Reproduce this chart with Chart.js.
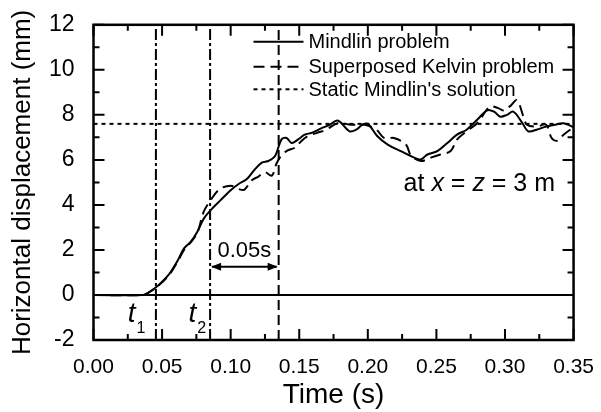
<!DOCTYPE html>
<html>
<head>
<meta charset="utf-8">
<script src="https://cdn.jsdelivr.net/npm/chart.js@4.4.1/dist/chart.umd.min.js"></script>
<style>
  html, body { margin: 0; padding: 0; background: #fff; }
  #wrap { width: 601px; height: 412px; }
</style>
</head>
<body>
<div id="wrap"><canvas id="dispChart" width="601" height="412"></canvas></div>
<script>
// values: time (s) and horizontal displacement (mm)
const mindlinTime = [0, 0.036, 0.040, 0.048, 0.055, 0.061, 0.066, 0.071, 0.0756, 0.0804, 0.0853, 0.0925,
  0.0998, 0.1058, 0.1118, 0.1167, 0.1227, 0.1275, 0.1324, 0.137, 0.1408, 0.1444, 0.149, 0.154, 0.159,
  0.166, 0.172, 0.178, 0.1867, 0.1915, 0.196, 0.200, 0.207, 0.2145, 0.224, 0.2338, 0.2386, 0.2435,
  0.2507, 0.258, 0.265, 0.272, 0.2797, 0.287, 0.292, 0.2966, 0.3014, 0.306, 0.312, 0.317, 0.323,
  0.330, 0.3365, 0.3427, 0.350];
const mindlinDisp = [0, 0, 0.1, 0.47, 0.91, 1.49, 2.07, 2.37, 2.8, 3.39, 3.76, 4.2,
  4.64, 4.93, 5.15, 5.51, 5.88, 5.95, 6.17, 6.9, 6.97, 6.75, 6.9, 7.12, 7.2,
  7.4, 7.55, 7.75, 7.27, 7.34, 7.56, 7.6, 7.05, 6.68, 6.39, 6.1, 6.02, 6.24,
  6.39, 6.75, 7.12, 7.34, 7.78, 8.2, 8.14, 7.92, 8.0, 8.14, 7.7, 7.27, 7.34,
  7.48, 7.56, 7.63, 7.45];

const kelvinTime = [0, 0.036, 0.040, 0.048, 0.055, 0.061, 0.066, 0.071, 0.0756, 0.0804, 0.0853, 0.092,
  0.100, 0.106, 0.110, 0.1155, 0.120, 0.125, 0.130, 0.1335, 0.137, 0.141, 0.147, 0.151, 0.156,
  0.163, 0.170, 0.178, 0.188, 0.1976, 0.203, 0.207, 0.212, 0.219, 0.2278, 0.2314, 0.2386, 0.246,
  0.253, 0.2604, 0.265, 0.272, 0.2797, 0.289, 0.295, 0.299, 0.304, 0.3087, 0.3135, 0.316, 0.323,
  0.330, 0.334, 0.338, 0.3427, 0.350];
const kelvinDisp = [0, 0, 0.1, 0.45, 0.88, 1.45, 2.0, 2.35, 2.75, 3.7, 4.2, 4.7,
  4.85, 4.7, 4.68, 5.1, 5.25, 5.45, 5.3, 5.85, 6.2, 6.4, 6.55, 6.8, 7.05,
  7.2, 7.35, 7.63, 7.56, 7.56, 7.45, 7.3, 6.97, 6.97, 6.68, 6.2, 5.95, 6.1,
  6.24, 6.39, 6.9, 7.27, 7.63, 8.36, 8.3, 8.2, 8.4, 8.65, 7.92, 7.56, 7.48,
  7.56, 6.97, 6.85, 7.12, 7.45];

const staticDisp = 7.6;                    // static Mindlin's solution
const markerTimes = [0.0455, 0.085, 0.135]; // t1, t2, t2 + 0.05 s
const seriesLabels = ['Mindlin problem', 'Superposed Kelvin problem', "Static Mindlin's solution"];

const xTickValues = [0, 0.05, 0.10, 0.15, 0.20, 0.25, 0.30, 0.35];
const xTickLabels = ['0.00', '0.05', '0.10', '0.15', '0.20', '0.25', '0.30', '0.35'];
const yTickValues = [-2, 0, 2, 4, 6, 8, 10, 12];
const yTickLabels = ['-2', '0', '2', '4', '6', '8', '10', '12'];

const FONT = "'Liberation Sans', Arial, sans-serif";

function toPoints(xs, ys) {
    return xs.map((t, i) => ({ x: t, y: ys[i] }));
}

const xMin = xTickValues[0], xMax = xTickValues[xTickValues.length - 1];
const yMin = yTickValues[0], yMax = yTickValues[yTickValues.length - 1];

function vline(t, dash) {
    return {
        data: [{ x: t, y: yMin }, { x: t, y: yMax }],
        borderColor: '#000', borderWidth: 2, borderDash: dash,
        pointRadius: 0, tension: 0
    };
}

// frame with inward major/minor ticks on all four sides
const axisBox = {
    id: 'axisBox',
    afterDatasetsDraw(chart) {
        const { ctx, chartArea: a, scales: { x, y } } = chart;
        ctx.save();
        ctx.strokeStyle = '#000';
        ctx.lineWidth = 2;
        ctx.beginPath();
        const tick = (px, horizontalAxis, len) => {
            if (horizontalAxis) {
                ctx.moveTo(px, a.bottom); ctx.lineTo(px, a.bottom - len);
                ctx.moveTo(px, a.top); ctx.lineTo(px, a.top + len);
            } else {
                ctx.moveTo(a.left, px); ctx.lineTo(a.left + len, px);
                ctx.moveTo(a.right, px); ctx.lineTo(a.right - len, px);
            }
        };
        xTickValues.forEach((v, i) => {
            tick(x.getPixelForValue(v), true, 11);
            if (i < xTickValues.length - 1) tick(x.getPixelForValue((v + xTickValues[i + 1]) / 2), true, 6);
        });
        yTickValues.forEach((v, i) => {
            tick(y.getPixelForValue(v), false, 11);
            if (i < yTickValues.length - 1) tick(y.getPixelForValue((v + yTickValues[i + 1]) / 2), false, 6);
        });
        ctx.stroke();
        ctx.lineWidth = 2.5;
        ctx.strokeRect(a.left, a.top, a.right - a.left, a.bottom - a.top);
        ctx.restore();
    },
    afterDraw(chart) {
        const { ctx, chartArea: a, scales: { x, y } } = chart;
        ctx.save();
        ctx.fillStyle = '#000';
        ctx.strokeStyle = '#000';

        // legend inside the plot
        const rows = [41.7, 66.7, 89.3];
        const sx0 = a.left + 160, sx1 = a.left + 210;
        ctx.font = '20px ' + FONT;
        ctx.textAlign = 'left';
        ctx.textBaseline = 'middle';
        rows.forEach((ry, i) => {
            const ds = chart.data.datasets[i];
            ctx.lineWidth = 2;
            ctx.setLineDash(ds.borderDash || []);
            ctx.beginPath();
            ctx.moveTo(sx0, ry); ctx.lineTo(sx1, ry);
            ctx.stroke();
            ctx.setLineDash([]);
            ctx.fillText(ds.label, sx1 + 5, ry + 1);
        });

        // 0.05 s interval arrow
        const xa = x.getPixelForValue(markerTimes[1]), xb = x.getPixelForValue(markerTimes[2]);
        const ya = y.getPixelForValue(1.25);
        ctx.lineWidth = 2;
        ctx.beginPath();
        ctx.moveTo(xa + 2, ya); ctx.lineTo(xb - 2, ya);
        ctx.stroke();
        ctx.beginPath();
        ctx.moveTo(xa + 1, ya); ctx.lineTo(xa + 11, ya - 4); ctx.lineTo(xa + 11, ya + 4); ctx.closePath();
        ctx.moveTo(xb - 1, ya); ctx.lineTo(xb - 11, ya - 4); ctx.lineTo(xb - 11, ya + 4); ctx.closePath();
        ctx.fill();
        ctx.font = '22px ' + FONT;
        ctx.textAlign = 'center';
        ctx.textBaseline = 'alphabetic';
        ctx.fillText('0.05s', (xa + xb) / 2, y.getPixelForValue(1.7));

        // t1, t2 labels
        const subLabel = (t, sub) => {
            const px = x.getPixelForValue(t), py = y.getPixelForValue(-1.2);
            ctx.textAlign = 'left';
            ctx.font = 'italic 28px ' + FONT;
            ctx.fillText('t', px, py);
            const w = ctx.measureText('t').width;
            ctx.font = '16px ' + FONT;
            ctx.fillText(sub, px + w + 1, py + 11);
        };
        subLabel(0.025, '1');
        subLabel(0.0693, '2');

        // location note, right aligned
        const parts = [['at ', ''], ['x', 'italic '], [' = ', ''], ['z', 'italic '], [' = 3 m', '']];
        let total = 0;
        parts.forEach(p => { ctx.font = p[1] + '25px ' + FONT; total += ctx.measureText(p[0]).width; });
        let cx = x.getPixelForValue(0.3365) - total;
        const by = y.getPixelForValue(4.6);
        ctx.textAlign = 'left';
        parts.forEach(p => {
            ctx.font = p[1] + '25px ' + FONT;
            ctx.fillText(p[0], cx, by);
            cx += ctx.measureText(p[0]).width;
        });
        ctx.restore();
    }
};

const ctx = document.getElementById('dispChart').getContext('2d');
const dispChart = new Chart(ctx, {
    type: 'line',
    data: {
        datasets: [
            {
                label: seriesLabels[0],
                data: toPoints(mindlinTime, mindlinDisp),
                borderColor: '#000', borderWidth: 2, pointRadius: 0, tension: 0.35
            },
            {
                label: seriesLabels[1],
                data: toPoints(kelvinTime, kelvinDisp),
                borderColor: '#000', borderWidth: 2, borderDash: [11, 6], pointRadius: 0, tension: 0.35
            },
            {
                label: seriesLabels[2],
                data: [{ x: xMin, y: staticDisp }, { x: xMax, y: staticDisp }],
                borderColor: '#000', borderWidth: 2, borderDash: [4, 4], pointRadius: 0, tension: 0
            },
            {
                data: [{ x: xMin, y: 0 }, { x: xMax, y: 0 }],
                borderColor: '#000', borderWidth: 2, pointRadius: 0, tension: 0
            },
            vline(markerTimes[0], [11, 3, 3, 3]),
            vline(markerTimes[1], [11, 3, 3, 3]),
            vline(markerTimes[2], [10, 5])
        ]
    },
    options: {
        responsive: false,
        animation: false,
        devicePixelRatio: 1,
        layout: { padding: { top: 21, right: 23, left: 0, bottom: 0 } },
        plugins: {
            legend: { display: false },
            tooltip: { enabled: false }
        },
        scales: {
            x: {
                type: 'linear',
                min: xMin,
                max: xMax,
                grid: { display: false },
                border: { display: false },
                afterBuildTicks: scale => { scale.ticks = xTickValues.map(v => ({ value: v })); },
                afterFit: scale => { scale.height = 72; },
                ticks: {
                    color: '#000',
                    font: { family: FONT, size: 21 },
                    padding: 7,
                    maxRotation: 0,
                    callback: (v, i) => xTickLabels[i]
                },
                title: {
                    display: true,
                    text: 'Time (s)',
                    color: '#000',
                    font: { family: FONT, size: 28 },
                    padding: { top: 0, bottom: 0 }
                }
            },
            y: {
                min: yMin,
                max: yMax,
                grid: { display: false },
                border: { display: false },
                afterBuildTicks: scale => { scale.ticks = yTickValues.map(v => ({ value: v })); },
                afterFit: scale => { scale.width = 93.5; },
                ticks: {
                    color: '#000',
                    font: { family: FONT, size: 23 },
                    padding: 11,
                    callback: (v, i) => yTickLabels[i]
                },
                title: {
                    display: true,
                    text: 'Horizontal displacement (mm)',
                    color: '#000',
                    font: { family: FONT, size: 26 },
                    padding: { top: 7, bottom: 0 }
                }
            }
        }
    },
    plugins: [axisBox]
});
</script>
</body>
</html>
